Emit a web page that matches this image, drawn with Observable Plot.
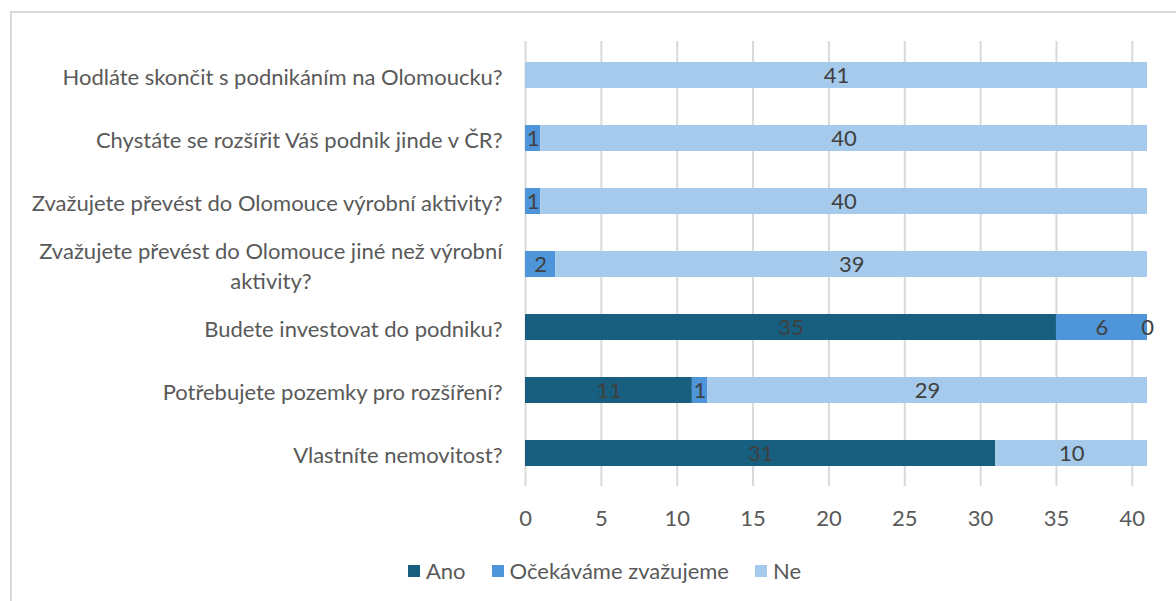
<!DOCTYPE html>
<html><head><meta charset="utf-8">
<script src="https://cdn.jsdelivr.net/npm/d3@7"></script>
<script src="https://cdn.jsdelivr.net/npm/@observablehq/plot@0.6"></script>
<style>
body{margin:0;background:#fff;font-family:Lato, "Open Sans", sans-serif;width:1176px;height:601px;overflow:hidden;position:relative;}
#frame{position:absolute;left:10px;top:11px;width:1300px;height:700px;border:2px solid #d9d9d9;box-sizing:border-box;}
#chart{position:absolute;left:0;top:0;}
#legend{position:absolute;left:0;top:558px;width:1176px;display:flex;justify-content:center;padding-left:33px;box-sizing:border-box;font-size:22px;color:#595959;line-height:26px;}
.item{display:flex;align-items:center;margin:0 13px;}
.sw{width:12px;height:12px;margin-right:6px;}
</style></head><body>
<div id="frame"></div>
<div id="chart"></div>
<div id="legend"></div>
<script>
const categories = [
  "Hodláte skončit s podnikáním na Olomoucku?",
  "Chystáte se rozšířit Váš podnik jinde v ČR?",
  "Zvažujete převést do Olomouce výrobní aktivity?",
  "Zvažujete převést do Olomouce jiné než výrobní aktivity?",
  "Budete investovat do podniku?",
  "Potřebujete pozemky pro rozšíření?",
  "Vlastníte nemovitost?"
];
const series = ["Ano", "Očekáváme zvažujeme", "Ne"];
const ano = [null, null, null, null, 35, 11, 31];
const ocekavame = [null, 1, 1, 2, 6, 1, null];
const ne = [41, 40, 40, 39, 0, 29, 10];
const xTicks = [0, 5, 10, 15, 20, 25, 30, 35, 40];
const colors = ["#175e7f", "#4e95d9", "#a6caec"];

const wrapped = {"Zvažujete převést do Olomouce jiné než výrobní aktivity?": "Zvažujete převést do Olomouce jiné než výrobní\naktivity?"};

const valuesBySeries = [ano, ocekavame, ne];
const data = [];
categories.forEach((c, i) => {
  series.forEach((s, j) => {
    const v = valuesBySeries[j][i];
    if (v !== null) data.push({category: c, series: s, value: v});
  });
});

const chart = Plot.plot({
  width: 1176,
  height: 545,
  marginLeft: 525,
  marginRight: 29,
  marginTop: 41,
  marginBottom: 59,
  style: {fontFamily: "Lato, 'Open Sans', sans-serif", fontSize: "22px", color: "#595959", background: "transparent"},
  x: {domain: [0, 41]},
  y: {domain: categories, paddingInner: 0.59, paddingOuter: 0.295},
  color: {domain: series, range: colors},
  marks: [
    Plot.gridX(xTicks, {stroke: "#d9d9d9", strokeOpacity: 1, strokeWidth: 2}),
    Plot.barX(data, Plot.stackX({x: "value", y: "category", fill: "series", order: series})),
    Plot.text(data, Plot.stackX({x: "value", y: "category", z: "series", order: series, text: d => String(d.value), fill: "#404040", fontSize: 22})),
    Plot.axisX({ticks: xTicks, tickSize: 0, tickPadding: 24, fontSize: 22, label: null, fill: "#595959"}),
    Plot.axisY({tickSize: 0, tickPadding: 23, fontSize: 22, lineHeight: 1.36, label: null, fill: "#595959", tickFormat: d => wrapped[d] || d})
  ]
});
document.getElementById("chart").appendChild(chart);

// center multi-line tick labels like the original
chart.querySelectorAll("text").forEach(t => {
  const spans = t.querySelectorAll("tspan");
  if (spans.length > 1) {
    let maxW = 0;
    spans.forEach(s => { maxW = Math.max(maxW, s.getComputedTextLength()); });
    t.setAttribute("text-anchor", "middle");
    spans.forEach(s => s.setAttribute("x", -maxW / 2));
  }
});

const legend = document.getElementById("legend");
series.forEach((s, i) => {
  const item = document.createElement("div");
  item.className = "item";
  const sw = document.createElement("div");
  sw.className = "sw";
  sw.style.background = colors[i];
  const lab = document.createElement("span");
  lab.textContent = s;
  item.appendChild(sw);
  item.appendChild(lab);
  legend.appendChild(item);
});
</script>
</body></html>
